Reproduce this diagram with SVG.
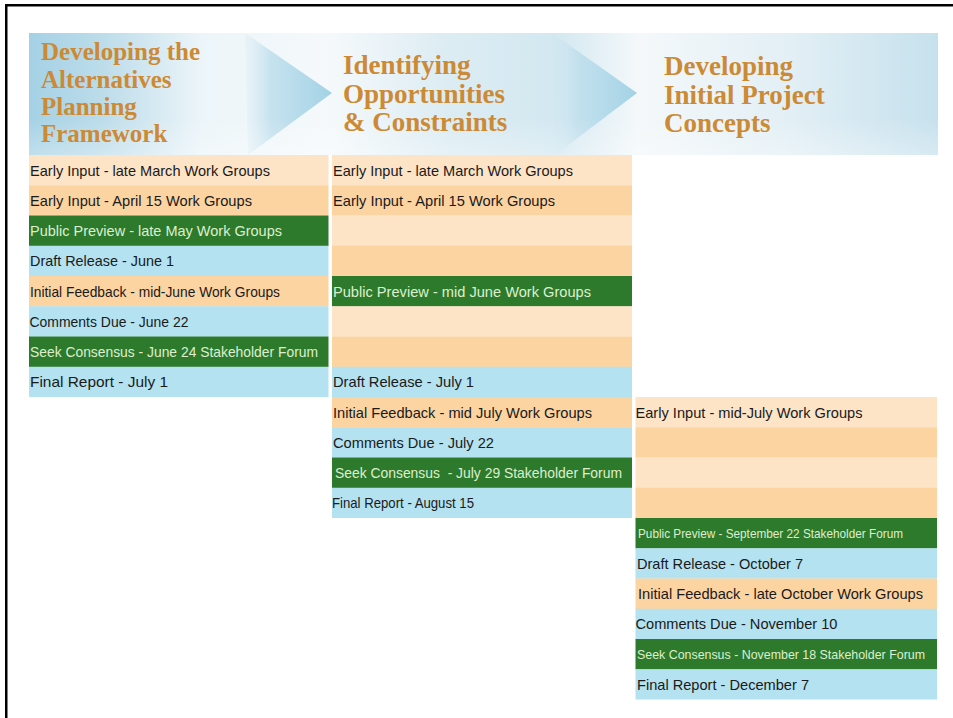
<svg xmlns="http://www.w3.org/2000/svg" width="953" height="718" viewBox="0 0 953 718">
<defs>
<linearGradient id="hdr" gradientUnits="userSpaceOnUse" x1="29" y1="0" x2="938" y2="0">
<stop offset="0" stop-color="#a5d1e5"/>
<stop offset="0.08" stop-color="#bcdcea"/>
<stop offset="0.19" stop-color="#ecf5f9"/>
<stop offset="0.33" stop-color="#f5f9fb"/>
<stop offset="0.46" stop-color="#dcecf3"/>
<stop offset="0.58" stop-color="#d3e8f1"/>
<stop offset="0.67" stop-color="#f4f8fa"/>
<stop offset="0.84" stop-color="#e2eff5"/>
<stop offset="1" stop-color="#c6e1ed"/>
</linearGradient>
<linearGradient id="arr" x1="0" y1="0" x2="1" y2="0">
<stop offset="0" stop-color="#cfe6f0" stop-opacity="0.2"/>
<stop offset="0.3" stop-color="#bedeec" stop-opacity="0.85"/>
<stop offset="1" stop-color="#a2d2e6" stop-opacity="1"/>
</linearGradient>
<linearGradient id="hdrfade" x1="0" y1="0" x2="0" y2="1">
<stop offset="0.7" stop-color="#ffffff" stop-opacity="0"/>
<stop offset="1" stop-color="#ffffff" stop-opacity="0.3"/>
</linearGradient>
<style>
.lp{fill:#fde4c7}
.pk{fill:#fcd4a2}
.gr{fill:#2e7a2c}
.bl{fill:#b4e2f0}
.t{font-family:"Liberation Sans",Arial,sans-serif;font-size:14.5px;fill:#1a1a1a}
.tg{font-family:"Liberation Sans",Arial,sans-serif;font-size:14.5px;fill:#dcefcf}
.ts{font-size:13px}
.h1{font-family:"Liberation Serif","Times New Roman",serif;font-weight:bold;font-size:25px;fill:#cc8a35}
.h2{font-family:"Liberation Serif","Times New Roman",serif;font-weight:bold;font-size:27px;fill:#cc8a35}
</style>
</defs>
<rect x="0" y="0" width="953" height="718" fill="#ffffff"/>
<g id="frame">
<rect x="5" y="4" width="948" height="2.5" fill="#000"/>
<rect x="5" y="4" width="2.5" height="714" fill="#000"/>
</g>
<g id="header">
<rect x="29" y="33" width="909" height="122" fill="url(#hdr)"/>
<polygon points="245,33 332,93 248,155" fill="url(#arr)"/>
<polygon points="552,33 637,93 555,155" fill="url(#arr)"/>
<rect x="29" y="33" width="909" height="122" fill="url(#hdrfade)"/>
</g>
<g id="title1">
<text class="h1" x="41" y="60">Developing the</text>
<text class="h1" x="41" y="87.5">Alternatives</text>
<text class="h1" x="41" y="115">Planning</text>
<text class="h1" x="41" y="141.5">Framework</text>
</g>
<g id="title2">
<text class="h2" x="343" y="74">Identifying</text>
<text class="h2" x="343" y="102.5">Opportunities</text>
<text class="h2" x="343" y="131">&amp; Constraints</text>
</g>
<g id="title3">
<text class="h2" x="664" y="75">Developing</text>
<text class="h2" x="664" y="103.5">Initial Project</text>
<text class="h2" x="664" y="132">Concepts</text>
</g>
<g id="col1">
<g id="c1r1"><rect class="lp" x="29" y="155" width="299.5" height="30.5"/><text class="t" x="30" y="175.5" textLength="240" lengthAdjust="spacingAndGlyphs">Early Input - late March Work Groups</text></g>
<g id="c1r2"><rect class="pk" x="29" y="185.25" width="299.5" height="30.5"/><text class="t" x="30" y="205.5" textLength="222" lengthAdjust="spacingAndGlyphs">Early Input - April 15 Work Groups</text></g>
<g id="c1r3"><rect class="gr" x="29" y="215.5" width="299.5" height="30.5"/><text class="tg" x="30" y="236" textLength="252" lengthAdjust="spacingAndGlyphs">Public Preview - late May Work Groups</text></g>
<g id="c1r4"><rect class="bl" x="29" y="245.75" width="299.5" height="30.5"/><text class="t" x="30" y="266" textLength="144" lengthAdjust="spacingAndGlyphs">Draft Release - June 1</text></g>
<g id="c1r5"><rect class="pk" x="29" y="276" width="299.5" height="30.5"/><text class="t" x="30" y="296.5" textLength="250" lengthAdjust="spacingAndGlyphs">Initial Feedback - mid-June Work Groups</text></g>
<g id="c1r6"><rect class="bl" x="29" y="306.25" width="299.5" height="30.5"/><text class="t" x="29.5" y="326.5" textLength="159" lengthAdjust="spacingAndGlyphs">Comments Due - June 22</text></g>
<g id="c1r7"><rect class="gr" x="29" y="336.5" width="299.5" height="30.5"/><text class="tg" x="30" y="357" textLength="288" lengthAdjust="spacingAndGlyphs">Seek Consensus - June 24 Stakeholder Forum</text></g>
<g id="c1r8"><rect class="bl" x="29" y="366.75" width="299.5" height="30.25"/><text class="t" x="30" y="387" textLength="138" lengthAdjust="spacingAndGlyphs">Final Report - July 1</text></g>
</g>
<g id="col2">
<g id="c2r1"><rect class="lp" x="332" y="155" width="300" height="30.5"/><text class="t" x="333" y="175.5" textLength="240" lengthAdjust="spacingAndGlyphs">Early Input - late March Work Groups</text></g>
<g id="c2r2"><rect class="pk" x="332" y="185.25" width="300" height="30.5"/><text class="t" x="333" y="205.5" textLength="222" lengthAdjust="spacingAndGlyphs">Early Input - April 15 Work Groups</text></g>
<g id="c2r3"><rect class="lp" x="332" y="215.5" width="300" height="30.5"/></g>
<g id="c2r4"><rect class="pk" x="332" y="245.75" width="300" height="30.5"/></g>
<g id="c2r5"><rect class="gr" x="332" y="276" width="300" height="30.5"/><text class="tg" x="333" y="296.5" textLength="258" lengthAdjust="spacingAndGlyphs">Public Preview - mid June Work Groups</text></g>
<g id="c2r6"><rect class="lp" x="332" y="306.25" width="300" height="30.5"/></g>
<g id="c2r7"><rect class="pk" x="332" y="336.5" width="300" height="30.5"/></g>
<g id="c2r8"><rect class="bl" x="332" y="366.75" width="300" height="30.5"/><text class="t" x="333" y="387" textLength="141" lengthAdjust="spacingAndGlyphs">Draft Release - July 1</text></g>
<g id="c2r9"><rect class="pk" x="332" y="397" width="300" height="30.5"/><text class="t" x="333" y="417.5" textLength="259" lengthAdjust="spacingAndGlyphs">Initial Feedback - mid July Work Groups</text></g>
<g id="c2r10"><rect class="bl" x="332" y="427.25" width="300" height="30.5"/><text class="t" x="333" y="447.5" textLength="161" lengthAdjust="spacingAndGlyphs">Comments Due - July 22</text></g>
<g id="c2r11"><rect class="gr" x="332" y="457.5" width="300" height="30.5"/><text class="tg" x="335" y="478" textLength="287" lengthAdjust="spacingAndGlyphs" xml:space="preserve">Seek Consensus  - July 29 Stakeholder Forum</text></g>
<g id="c2r12"><rect class="bl" x="332" y="487.75" width="300" height="30.25"/><text class="t" x="332" y="508" textLength="142" lengthAdjust="spacingAndGlyphs">Final Report - August 15</text></g>
</g>
<g id="col3">
<g id="c3r1"><rect class="lp" x="635.5" y="397" width="301.5" height="30.5"/><text class="t" x="635.5" y="417.5" textLength="227" lengthAdjust="spacingAndGlyphs">Early Input - mid-July Work Groups</text></g>
<g id="c3r2"><rect class="pk" x="635.5" y="427.25" width="301.5" height="30.5"/></g>
<g id="c3r3"><rect class="lp" x="635.5" y="457.5" width="301.5" height="30.5"/></g>
<g id="c3r4"><rect class="pk" x="635.5" y="487.75" width="301.5" height="30.5"/></g>
<g id="c3r5"><rect class="gr" x="635.5" y="518" width="301.5" height="30.5"/><text class="tg ts" x="638" y="538" textLength="265" lengthAdjust="spacingAndGlyphs">Public Preview - September 22 Stakeholder Forum</text></g>
<g id="c3r6"><rect class="bl" x="635.5" y="548.25" width="301.5" height="30.5"/><text class="t" x="637" y="568.5" textLength="166" lengthAdjust="spacingAndGlyphs">Draft Release - October 7</text></g>
<g id="c3r7"><rect class="pk" x="635.5" y="578.5" width="301.5" height="30.5"/><text class="t" x="638" y="599" textLength="285" lengthAdjust="spacingAndGlyphs">Initial Feedback - late October Work Groups</text></g>
<g id="c3r8"><rect class="bl" x="635.5" y="608.75" width="301.5" height="30.5"/><text class="t" x="635.5" y="629" textLength="202" lengthAdjust="spacingAndGlyphs">Comments Due - November 10</text></g>
<g id="c3r9"><rect class="gr" x="635.5" y="639" width="301.5" height="30.5"/><text class="tg ts" x="637" y="659" textLength="288" lengthAdjust="spacingAndGlyphs">Seek Consensus - November 18 Stakeholder Forum</text></g>
<g id="c3r10"><rect class="bl" x="635.5" y="669.25" width="301.5" height="30.25"/><text class="t" x="637" y="689.5" textLength="172" lengthAdjust="spacingAndGlyphs">Final Report - December 7</text></g>
</g>
</svg>
